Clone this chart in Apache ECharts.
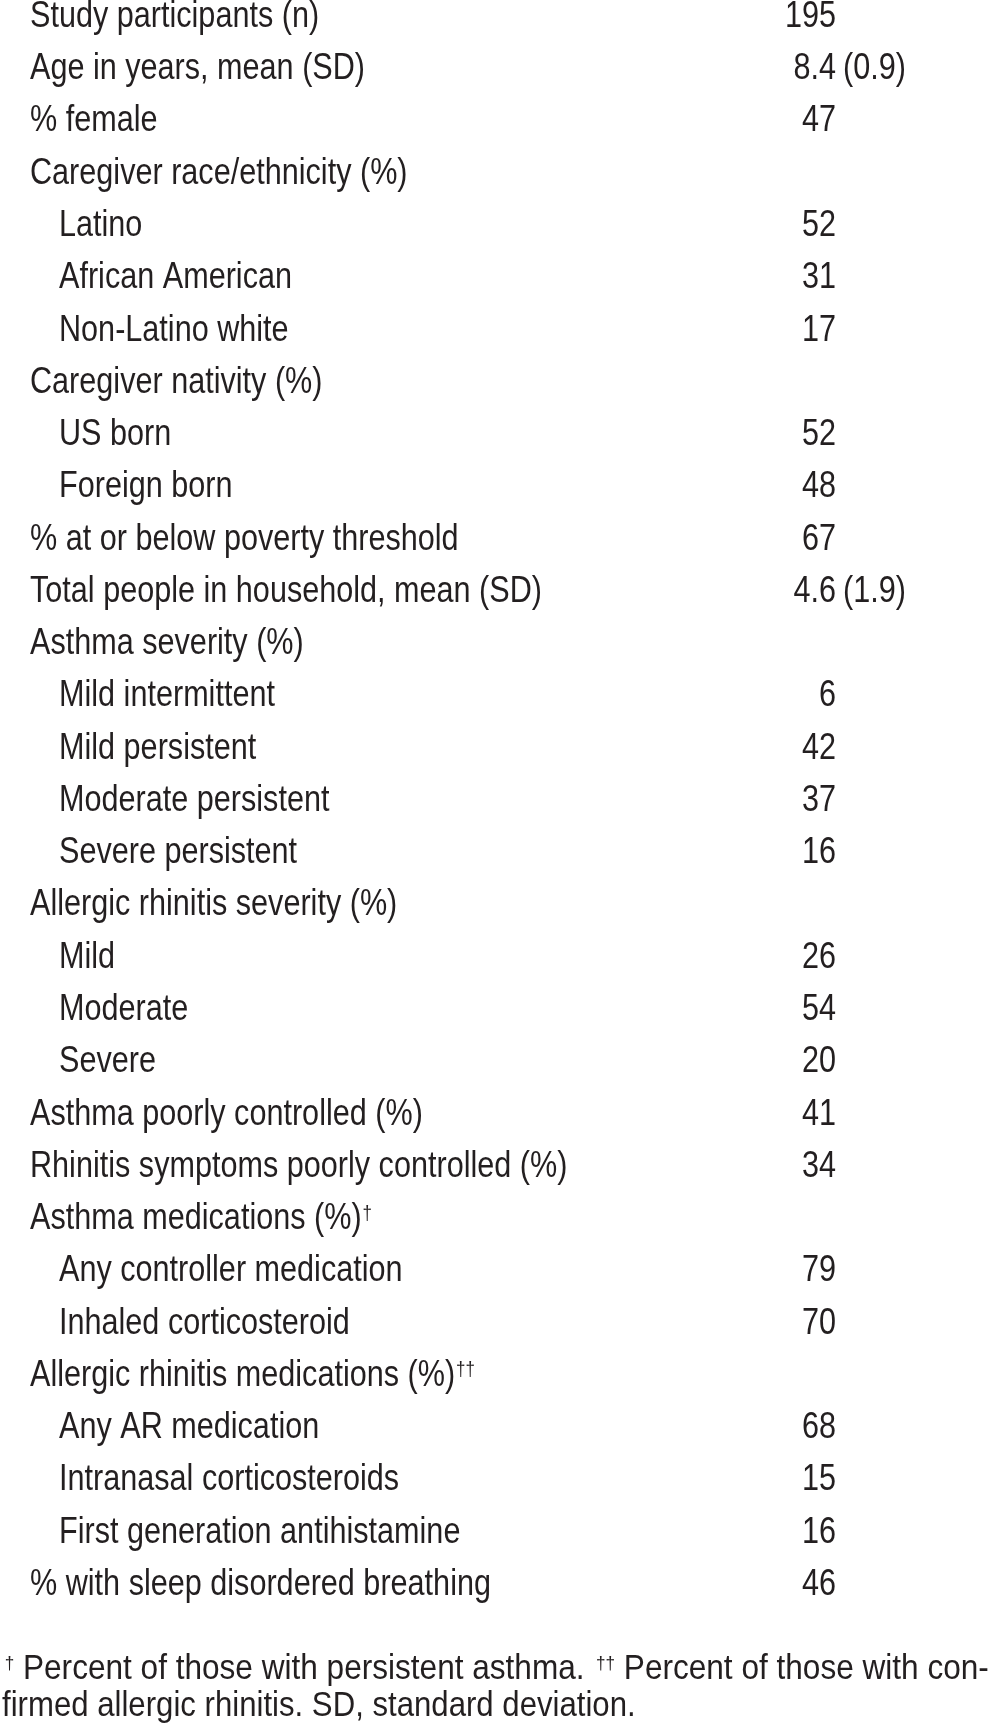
<!DOCTYPE html>
<html>
<head>
<meta charset="utf-8">
<script src="https://cdn.jsdelivr.net/npm/echarts@6/dist/echarts.min.js"></script>
<style>
  html, body { margin: 0; padding: 0; background: #fff; }
  #main { width: 990px; height: 1732px; }
</style>
</head>
<body>
<div id="main"></div>
<script>
// table rows (a trailing † marks a footnote superscript)
const rowNames = [
  'Study participants (n)',
  'Age in years, mean (SD)',
  '% female',
  'Caregiver race/ethnicity (%)',
  'Latino',
  'African American',
  'Non-Latino white',
  'Caregiver nativity (%)',
  'US born',
  'Foreign born',
  '% at or below poverty threshold',
  'Total people in household, mean (SD)',
  'Asthma severity (%)',
  'Mild intermittent',
  'Mild persistent',
  'Moderate persistent',
  'Severe persistent',
  'Allergic rhinitis severity (%)',
  'Mild',
  'Moderate',
  'Severe',
  'Asthma poorly controlled (%)',
  'Rhinitis symptoms poorly controlled (%)',
  'Asthma medications (%)†',
  'Any controller medication',
  'Inhaled corticosteroid',
  'Allergic rhinitis medications (%)††',
  'Any AR medication',
  'Intranasal corticosteroids',
  'First generation antihistamine',
  '% with sleep disordered breathing'
]
const rowLevel = [0, 0, 0, 0, 1, 1, 1, 0, 1, 1, 0, 0, 0, 1, 1, 1, 1, 0, 1, 1, 1, 0, 0, 0, 1, 1, 0, 1, 1, 1, 0]
const rowValues = [195, 8.4, 47, null, 52, 31, 17, null, 52, 48, 67, 4.6, null, 6, 42, 37, 16, null, 26, 54, 20, 41, 34, null, 79, 70, null, 68, 15, 16, 46]
const rowSD = [null, 0.9, null, null, null, null, null, null, null, null, null, 1.9, null, null, null, null, null, null, null, null, null, null, null, null, null, null, null, null, null, null, null]
const footnote = [
  '{sup|†} Percent of those with persistent asthma. {sup|††} Percent of those with con-',
  'firmed allergic rhinitis. SD, standard deviation.'
]

// no narrow font installed, so the text is squeezed horizontally
const FONT = "'Liberation Sans', Arial, sans-serif"
const INK = '#231f20'
const SIZE = 36
const SQUEEZE = 0.85

const chart = echarts.init(document.getElementById('main'))

const withSup = (s) => s.replace(/(†+)$/, '{sup|$1}')
const supStyle = { fontFamily: FONT, fontSize: 20, fill: INK, verticalAlign: 'top', padding: [3, 0, 0, 1] }

const valueData = []
const sdData = []
rowNames.forEach((n, i) => {
  if (rowValues[i] !== null) valueData.push([1, i, rowValues[i]])
  if (rowSD[i] !== null) sdData.push([1, i, rowSD[i]])
})

const textItem = (pt, text, align) => ({
  type: 'text',
  x: pt[0],
  y: pt[1],
  scaleX: SQUEEZE,
  style: {
    text: text,
    fontFamily: FONT,
    fontSize: SIZE,
    fill: INK,
    align: align,
    verticalAlign: 'middle',
    rich: { sup: supStyle }
  }
})

const option = {
  animation: false,
  backgroundColor: '#fff',
  grid: { left: 30, right: 154, top: 17, bottom: 147 },
  xAxis: { type: 'value', min: 0, max: 1, show: false },
  yAxis: {
    type: 'category',
    data: rowNames,
    inverse: true,
    boundaryGap: false,
    show: false
  },
  series: [
    {
      name: 'label',
      type: 'custom',
      data: rowNames.map((n, i) => [0, i]),
      renderItem: (params, api) => {
        const i = params.dataIndex
        const pt = api.coord([0, api.value(1)])
        pt[0] += rowLevel[i] ? 29 : 0
        return textItem(pt, withSup(rowNames[i]), 'left')
      }
    },
    {
      name: 'value',
      type: 'custom',
      data: valueData,
      renderItem: (params, api) => {
        const pt = api.coord([api.value(0), api.value(1)])
        return textItem(pt, String(valueData[params.dataIndex][2]), 'right')
      }
    },
    {
      name: 'sd',
      type: 'custom',
      data: sdData,
      renderItem: (params, api) => {
        const pt = api.coord([api.value(0), api.value(1)])
        pt[0] += 7
        return textItem(pt, '(' + sdData[params.dataIndex][2] + ')', 'left')
      }
    }
  ],
  graphic: footnote.map((line, k) => ({
    type: 'text',
    x: 2,
    y: 1669 + k * 37,
    scaleX: k === 0 ? 0.902 : 0.89,
    style: {
      text: line,
      fontFamily: FONT,
      fontSize: 35,
      fill: INK,
      verticalAlign: 'middle',
      rich: { sup: { fontFamily: FONT, fontSize: 19, fill: INK, verticalAlign: 'top', padding: [3, 0, 0, 3] } }
    }
  }))
}

chart.setOption(option)
</script>
</body>
</html>
